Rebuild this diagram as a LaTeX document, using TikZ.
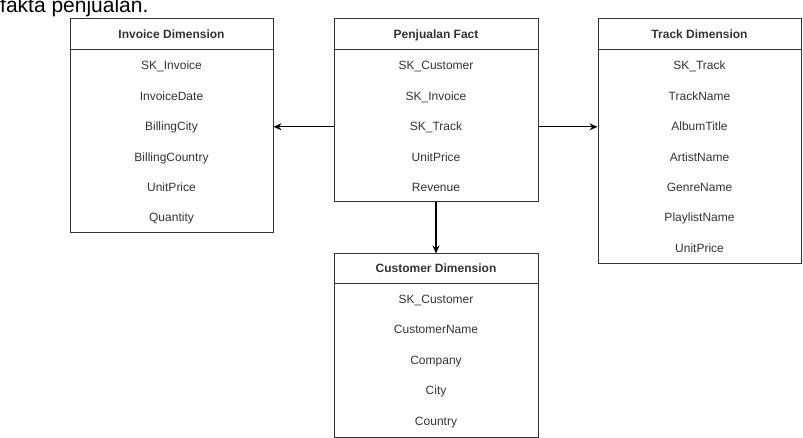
\documentclass[tikz,border=0pt]{standalone}
\usepackage{fontspec}
\setmainfont{Liberation Sans}
\usetikzlibrary{arrows.meta}
\definecolor{boxline}{HTML}{333333}
\definecolor{txt}{HTML}{333333}
\tikzset{
  tbl/.style={draw=boxline, line width=1pt, inner sep=0pt, rectangle},
  hdr/.style={font=\fontsize{12pt}{14pt}\selectfont\bfseries, text=txt, inner sep=0pt, text height=10pt, text depth=2pt},
  row/.style={font=\fontsize{12pt}{14pt}\selectfont, text=txt, inner sep=0pt, text height=10pt, text depth=2pt},
  sep/.style={draw=boxline, line width=1pt},
  link/.style={draw=black, line width=1.2pt, -{Stealth[length=8pt,width=7pt]}},
}
\begin{document}
\begin{tikzpicture}[x=1pt,y=-1pt]
\useasboundingbox (0,0) rectangle (803,438);
\node[anchor=base west, inner sep=0pt, font=\fontsize{21pt}{24pt}\selectfont] (cap) at (0,13) {fakta penjualan.};

% Invoice Dimension
\node[tbl, minimum width=203pt, minimum height=214pt] (inv) at (171.5,126) {};
\draw[sep] (70,50) -- (273,50);
\node[hdr] (invh) at (171.5,35) {Invoice Dimension};
\node[row] (i1) at (171.5,66) {SK\_Invoice};
\node[row] (i2) at (171.5,96.4) {InvoiceDate};
\node[row] (i3) at (171.5,126.8) {BillingCity};
\node[row] (i4) at (171.5,157.2) {BillingCountry};
\node[row] (i5) at (171.5,187.6) {UnitPrice};
\node[row] (i6) at (171.5,218) {Quantity};

% Penjualan Fact
\node[tbl, minimum width=204pt, minimum height=183pt] (fact) at (436,110.5) {};
\draw[sep] (334,50) -- (538,50);
\node[hdr] (facth) at (436,35) {Penjualan Fact};
\node[row] (f1) at (436,66) {SK\_Customer};
\node[row] (f2) at (436,96.4) {SK\_Invoice};
\node[row] (f3) at (436,126.8) {SK\_Track};
\node[row] (f4) at (436,157.2) {UnitPrice};
\node[row] (f5) at (436,187.6) {Revenue};

% Track Dimension
\node[tbl, minimum width=203pt, minimum height=245pt] (trk) at (699.5,141.5) {};
\draw[sep] (598,50) -- (801,50);
\node[hdr] (trkh) at (699.5,35) {Track Dimension};
\node[row] (t1) at (699.5,66) {SK\_Track};
\node[row] (t2) at (699.5,96.4) {TrackName};
\node[row] (t3) at (699.5,126.8) {AlbumTitle};
\node[row] (t4) at (699.5,157.2) {ArtistName};
\node[row] (t5) at (699.5,187.6) {GenreName};
\node[row] (t6) at (699.5,218) {PlaylistName};
\node[row] (t7) at (699.5,248.4) {UnitPrice};

% Customer Dimension
\node[tbl, minimum width=204pt, minimum height=183pt] (cust) at (436,345.5) {};
\draw[sep] (334,284) -- (538,284);
\node[hdr] (custh) at (436,269) {Customer Dimension};
\node[row] (c1) at (436,299.5) {SK\_Customer};
\node[row] (c2) at (436,330) {CustomerName};
\node[row] (c3) at (436,360.4) {Company};
\node[row] (c4) at (436,390.8) {City};
\node[row] (c5) at (436,421.2) {Country};

% connectors
\draw[link] (fact.west |- f3) -- (inv.east |- f3);
\draw[link] (fact.east |- f3) -- (trk.west |- f3);
\draw[link] (fact.south) -- (cust.north);
\end{tikzpicture}
\end{document}
